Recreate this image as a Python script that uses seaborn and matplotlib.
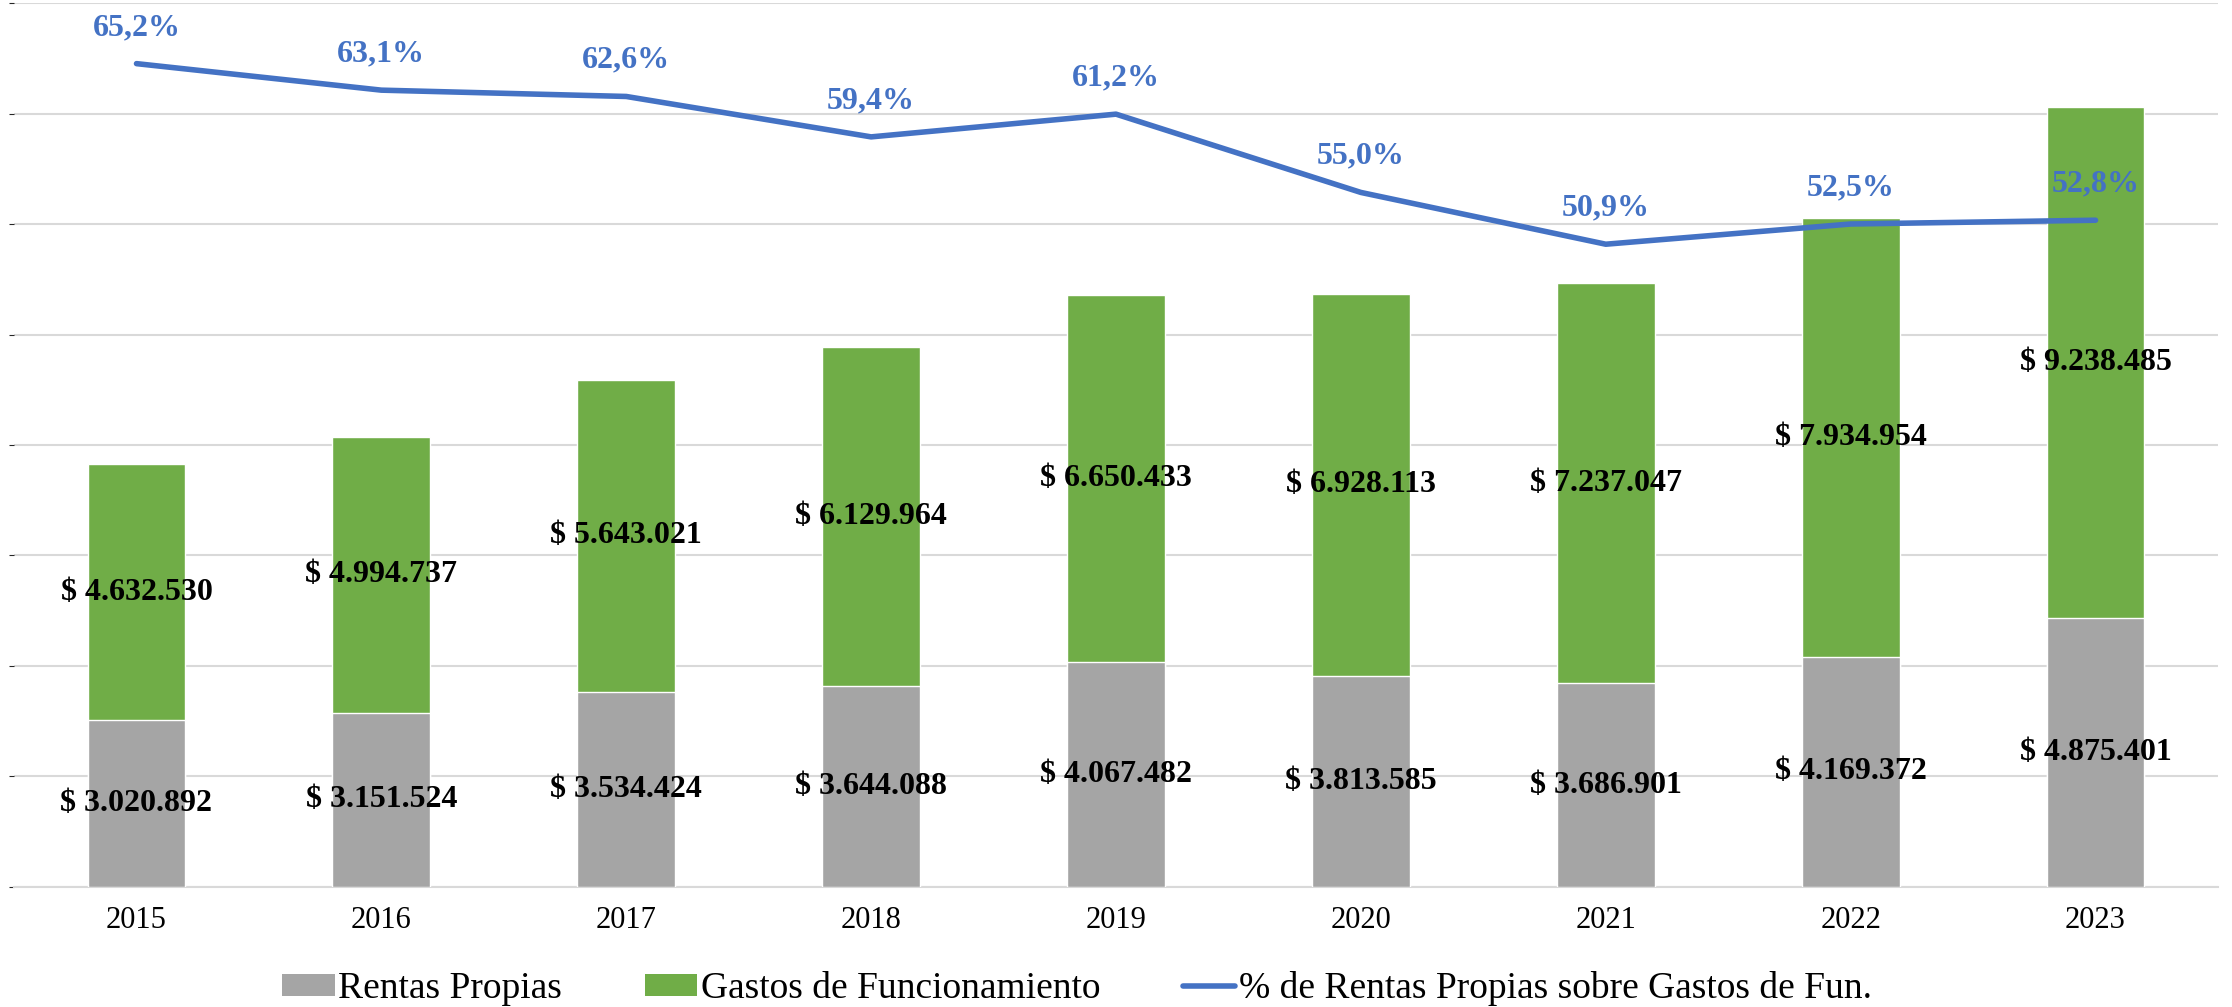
import matplotlib.pyplot as plt
import matplotlib as mpl
from matplotlib.patches import Patch
from matplotlib.lines import Line2D
import seaborn as sns
import numpy as np
import pandas as pd

# data
years = ['2015', '2016', '2017', '2018', '2019', '2020', '2021', '2022', '2023']
rentas = [3020892, 3151524, 3534424, 3644088, 4067482, 3813585, 3686901, 4169372, 4875401]
gastos = [4632530, 4994737, 5643021, 6129964, 6650433, 6928113, 7237047, 7934954, 9238485]
pct = [65.2, 63.1, 62.6, 59.4, 61.2, 55.0, 50.9, 52.5, 52.8]

sns.set_style('white')
mpl.rcParams['font.family'] = ['Liberation Serif', 'DejaVu Serif']
mpl.rcParams['text.color'] = 'black'
mpl.rcParams['xtick.color'] = 'black'
mpl.rcParams['xtick.labelcolor'] = 'black'

GRAY = '#A5A5A5'
GREEN = '#70AD47'
BLUE = '#4472C4'
GRID = '#D9D9D9'

df = pd.DataFrame({'year': years, 'rentas': rentas, 'gastos': gastos, 'pct': pct})
df['total'] = df['rentas'] + df['gastos']

fig = plt.figure(figsize=(22.32, 10.07), dpi=100)
ax = fig.add_axes([0.0063, 0.1192, 0.9874, 0.8778])

# stacked bars: total in green, rentas in gray on top of it
sns.barplot(data=df, x='year', y='total', color=GREEN, width=0.4, saturation=1,
            ax=ax, zorder=2)
sns.barplot(data=df, x='year', y='rentas', color=GRAY, width=0.4, saturation=1,
            ax=ax, zorder=3)

ax.set_ylim(0, 16000000)
ax.set_xlim(-0.5, len(years) - 0.5)
ax.set_yticks(np.arange(0, 16000001, 2000000))
ax.yaxis.grid(True, color=GRID, linewidth=1.5)
ax.set_axisbelow(True)
ax.tick_params(axis='y', left=False, labelleft=False)
ax.set_xlabel('')
ax.set_ylabel('')
for s in ['top', 'right', 'left']:
    ax.spines[s].set_visible(False)
ax.spines['bottom'].set_color(GRID)
ax.spines['bottom'].set_linewidth(1.5)
ax.set_xticks(np.arange(len(years)))
ax.set_xticklabels(years, fontsize=22, color='black')
ax.set_xticks(np.arange(len(years) + 1) - 0.5, minor=True)
ax.tick_params(axis='x', which='major', length=0, pad=14)
ax.tick_params(axis='x', which='minor', length=7, width=1.5, color=GRID)


def money(v):
    return '$ ' + f'{v:,}'.replace(',', '.')


for i, (r, g) in enumerate(zip(rentas, gastos)):
    ax.text(i, r / 2, money(r), ha='center', va='center', fontsize=23,
            fontweight='bold', color='black', zorder=5)
    ax.text(i, r + g / 2, money(g), ha='center', va='center', fontsize=23,
            fontweight='bold', color='black', zorder=5)

# percentage line on a hidden secondary axis
ax2 = ax.twinx()
sns.lineplot(x=np.arange(len(years)), y=pct, color=BLUE, linewidth=4, ax=ax2,
             zorder=4)
ax2.set_ylim(0, 70)
ax2.axis('off')
for i, p in enumerate(pct):
    ax2.annotate(f'{p:.1f}%'.replace('.', ','), (i, p), xytext=(0, 26),
                 textcoords='offset points', ha='center', va='center',
                 fontsize=23, fontweight='bold', color=BLUE)

handles = [Patch(facecolor=GRAY, edgecolor='none'),
           Patch(facecolor=GREEN, edgecolor='none'),
           Line2D([0], [0], color=BLUE, linewidth=4)]
labels = ['Rentas Propias', 'Gastos de Funcionamiento',
          '% de Rentas Propias sobre Gastos de Fun.']
fig.legend(handles, labels, loc='center', bbox_to_anchor=(0.4826, 0.018),
           ncol=3, frameon=False, fontsize=27, handlelength=1.4,
           handleheight=0.5, handletextpad=0.1, columnspacing=2.2)

fig.savefig('out.png', dpi=100)
